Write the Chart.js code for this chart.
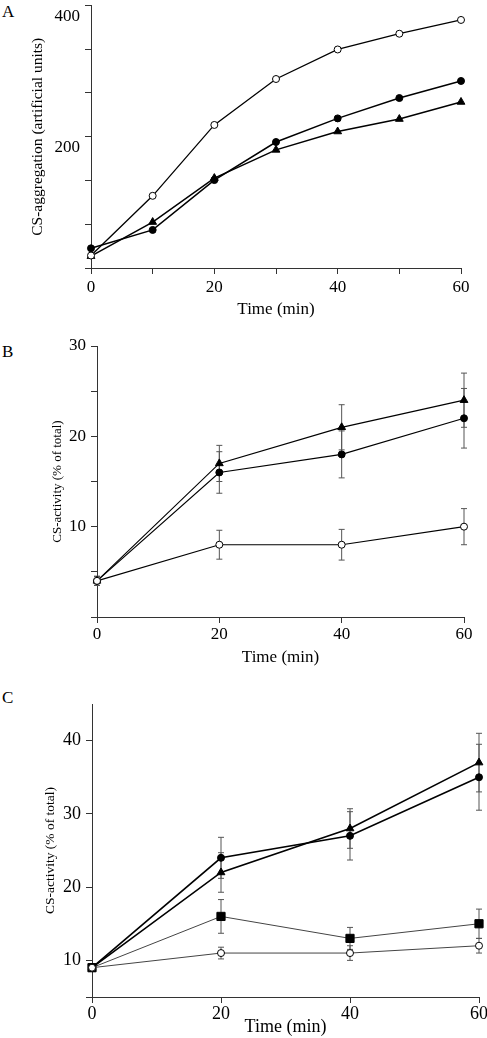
<!DOCTYPE html>
<html>
<head>
<meta charset="utf-8">
<script src="https://cdn.jsdelivr.net/npm/chart.js@4.4.1/dist/chart.umd.min.js"></script>
<style>
  body { margin: 0; background: #fff; width: 487px; height: 1038px; position: relative; overflow: hidden; }
  canvas { position: absolute; left: 0; }
  .tag { position: absolute; font: 17px "Liberation Serif", serif; color: #000; }
</style>
</head>
<body>
<div class="tag" style="left:2px;top:2px">A</div>
<div class="tag" style="left:2px;top:342px">B</div>
<div class="tag" style="left:2px;top:688px">C</div>
<canvas id="chartA" width="487" height="320" style="top:0px"></canvas>
<canvas id="chartB" width="487" height="338" style="top:330px"></canvas>
<canvas id="chartC" width="487" height="348" style="top:690px"></canvas>
<script>
// Panel A: CS-aggregation
var timeA = [0, 10, 20, 30, 40, 50, 60];
var aggOpenCircle = [19, 110, 218, 288, 333, 357, 378];
var aggFilledCircle = [30, 58, 134, 192, 228, 259, 285];
var aggTriangle = [18, 70, 137, 180, 208, 227, 253];
var xTicksA = [0, 10, 20, 30, 40, 50, 60];
var xLabelsA = [0, 20, 40, 60];
var yTicksA = [0, 66.67, 133.33, 200, 266.67, 333.33, 400];
var yLabelsA = [200, 400];

// Panel B: CS-activity
var timeB = [0, 20, 40, 60];
var actBTriangle = [4, 17, 21, 24];
var errBTriangle = [0.5, 2, 2.5, 3];
var actBFilledCircle = [4, 16, 18, 22];
var errBFilledCircle = [0.5, 2.3, 2.6, 3.3];
var actBOpenCircle = [4, 8, 8, 10];
var errBOpenCircle = [0.5, 1.6, 1.7, 2];
var xTicksB = [0, 20, 40, 60];
var yTicksB = [0, 5, 10, 15, 20, 25, 30];
var yLabelsB = [10, 20, 30];

// Panel C: CS-activity
var timeC = [0, 20, 40, 60];
var actCTriangle = [9, 22, 28, 37];
var errCTriangle = [0.5, 2.7, 2.7, 4];
var actCFilledCircle = [9, 24, 27, 35];
var errCFilledCircle = [0.5, 2.8, 3.3, 4.5];
var actCSquare = [9, 16, 13, 15];
var errCSquare = [0.5, 2.3, 1.5, 2];
var actCOpenCircle = [9, 11, 11, 12];
var errCOpenCircle = [0.5, 0.8, 1, 1];
var xTicksC = [0, 20, 40, 60];
var yTicksC = [5, 10, 20, 30, 40];
var yLabelsC = [10, 20, 30, 40];

var FONT = '"Liberation Serif", "Times New Roman", serif';

// draws vertical error bars with small caps, under the points
var errorBars = {
    id: 'errorBars',
    beforeDatasetsDraw: function (chart) {
        var ctx = chart.ctx;
        var yScale = chart.scales.y;
        chart.data.datasets.forEach(function (ds, i) {
            if (!ds.errors) return;
            var meta = chart.getDatasetMeta(i);
            ctx.save();
            ctx.strokeStyle = '#555';
            ctx.lineWidth = 1;
            meta.data.forEach(function (pt, j) {
                var v = ds.data[j].y;
                var e = ds.errors[j];
                var yTop = yScale.getPixelForValue(v + e);
                var yBot = yScale.getPixelForValue(v - e);
                ctx.beginPath();
                ctx.moveTo(pt.x, yTop); ctx.lineTo(pt.x, yBot);
                ctx.moveTo(pt.x - 3, yTop); ctx.lineTo(pt.x + 3, yTop);
                ctx.moveTo(pt.x - 3, yBot); ctx.lineTo(pt.x + 3, yBot);
                ctx.stroke();
            });
            ctx.restore();
        });
    }
};

function series(xs, ys, style, opts) {
    var ds = {
        data: xs.map(function (x, i) { return { x: x, y: ys[i] }; }),
        borderColor: opts.line || '#000',
        borderWidth: opts.width || 1.3,
        pointStyle: style === 'open' ? 'circle' : style,
        pointRadius: opts.radius || 3.5,
        pointBorderWidth: 1,
        pointBorderColor: '#000',
        pointBackgroundColor: style === 'open' ? '#fff' : '#000',
        tension: 0,
        clip: false
    };
    if (opts.errors) ds.errors = opts.errors;
    return ds;
}

function makePanel(id, p) {
    var canvas = document.getElementById(id);
    if (!canvas) {
        console.error('Canvas element not found.');
        return;
    }
    var ctx = canvas.getContext('2d');
    return new Chart(ctx, {
        type: 'line',
        data: { datasets: p.datasets },
        plugins: [errorBars],
        options: {
            responsive: false,
            animation: false,
            layout: { padding: { left: 0, right: p.padRight, top: p.padTop, bottom: 0 } },
            plugins: { legend: { display: false }, tooltip: { enabled: false } },
            scales: {
                x: {
                    type: 'linear',
                    min: p.xMin, max: p.xMax,
                    afterBuildTicks: function (s) { s.ticks = p.xTicks.map(function (v) { return { value: v }; }); },
                    afterFit: function (s) { s.height = p.xHeight; s.paddingLeft = 0; s.paddingRight = 0; },
                    ticks: {
                        padding: p.xPad,
                        maxRotation: 0,
                        autoSkip: false,
                        color: '#000',
                        font: { family: FONT, size: p.tickSize, weight: 'normal' },
                        callback: function (v) { return p.xLabels.indexOf(v) >= 0 ? String(v) : ''; }
                    },
                    grid: { drawOnChartArea: false, drawTicks: true, tickLength: 6, color: '#333' },
                    border: { color: '#333', width: 1 },
                    title: {
                        display: true, text: 'Time (min)', color: '#000',
                        font: { family: FONT, size: p.xTitleSize, weight: 'normal' },
                        padding: { top: 0, bottom: 0 }
                    }
                },
                y: {
                    min: p.yMin, max: p.yMax,
                    afterBuildTicks: function (s) { s.ticks = p.yTicks.map(function (v) { return { value: v }; }); },
                    afterFit: function (s) { s.width = p.yWidth; s.paddingTop = 0; s.paddingBottom = 0; },
                    ticks: {
                        padding: 5,
                        labelOffset: p.yLabelOffset || 0,
                        color: '#000',
                        font: { family: FONT, size: p.tickSize, weight: 'normal' },
                        callback: function (v) { return p.yLabels.indexOf(v) >= 0 ? String(v) : ''; }
                    },
                    grid: { drawOnChartArea: false, drawTicks: true, tickLength: 6, color: '#333' },
                    border: { color: '#333', width: 1 },
                    title: {
                        display: true, text: p.yTitle, color: '#000',
                        font: { family: FONT, size: p.yTitleSize, weight: 'normal' },
                        padding: { top: p.yTitlePad, bottom: 0 }
                    }
                }
            }
        }
    });
}

makePanel('chartA', {
    datasets: [
        series(timeA, aggOpenCircle, 'open', { width: 1.3 }),
        series(timeA, aggFilledCircle, 'circle', { width: 1.5 }),
        series(timeA, aggTriangle, 'triangle', { width: 1.5, radius: 4.5 })
    ],
    xMin: 0, xMax: 60, xTicks: xTicksA, xLabels: xLabelsA,
    yMin: 0, yMax: 400, yTicks: yTicksA, yLabels: yLabelsA,
    yWidth: 91, xHeight: 52, padRight: 26, padTop: 0, xPad: 3,
    yLabelOffset: 11, tickSize: 17, xTitleSize: 17,
    yTitle: 'CS-aggregation (artificial units)', yTitleSize: 15.5, yTitlePad: 29
});

makePanel('chartB', {
    datasets: [
        series(timeB, actBOpenCircle, 'open', { width: 1.2, errors: errBOpenCircle }),
        series(timeB, actBFilledCircle, 'circle', { width: 1.2, errors: errBFilledCircle }),
        series(timeB, actBTriangle, 'triangle', { width: 1.2, radius: 4.5, errors: errBTriangle })
    ],
    xMin: 0, xMax: 60, xTicks: xTicksB, xLabels: xTicksB,
    yMin: 0, yMax: 30, yTicks: yTicksB, yLabels: yLabelsB,
    yWidth: 97, xHeight: 51, padRight: 23, padTop: 16, xPad: 1,
    tickSize: 17, xTitleSize: 17,
    yTitle: 'CS-activity (% of total)', yTitleSize: 13, yTitlePad: 50
});

makePanel('chartC', {
    datasets: [
        series(timeC, actCOpenCircle, 'open', { width: 1, line: '#444', errors: errCOpenCircle }),
        series(timeC, actCSquare, 'rect', { width: 1, line: '#444', radius: 5.8, errors: errCSquare }),
        series(timeC, actCFilledCircle, 'circle', { width: 1.6, errors: errCFilledCircle }),
        series(timeC, actCTriangle, 'triangle', { width: 1.6, radius: 4.5, errors: errCTriangle })
    ],
    xMin: 0, xMax: 60, xTicks: xTicksC, xLabels: xTicksC,
    yMin: 5, yMax: 45, yTicks: yTicksC, yLabels: yLabelsC,
    yWidth: 92, xHeight: 41, padRight: 8, padTop: 14, xPad: 0,
    tickSize: 18, xTitleSize: 18,
    yTitle: 'CS-activity (% of total)', yTitleSize: 13.5, yTitlePad: 42
});
</script>
</body>
</html>
